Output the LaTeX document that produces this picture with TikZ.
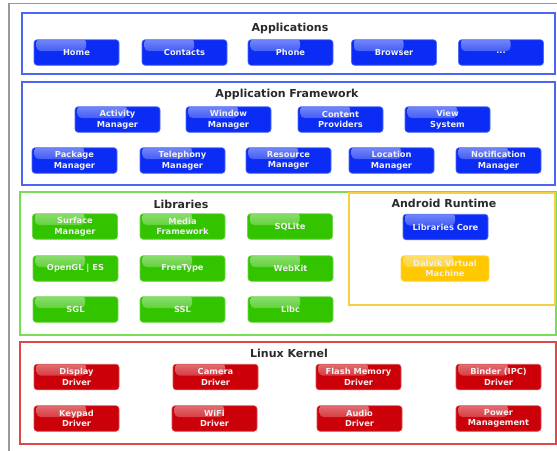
\documentclass[tikz,border=0pt]{standalone}
\usepackage{fontspec}
\newfontfamily\btnfont{DejaVu Sans}
\usetikzlibrary{calc}
\definecolor{bbtn}{HTML}{0A2CF5}
\definecolor{bline}{HTML}{4A66F2}
\definecolor{gbtn}{HTML}{33C400}
\definecolor{gline}{HTML}{77DD55}
\definecolor{ybtn}{HTML}{FFC800}
\definecolor{yline}{HTML}{F5D040}
\definecolor{rbtn}{HTML}{CC0008}
\definecolor{rline}{HTML}{E04848}
\definecolor{ttl}{HTML}{2A2A2A}
\tikzset{
  btn/.style={draw=#1!70!white, line width=0.6pt, fill=#1, rounded corners=3pt,
    minimum width=85pt, minimum height=25.5pt, inner sep=0pt, align=center,
    text=white!94!black, font=\btnfont\bfseries\fontsize{8.3}{10.5}\selectfont,
    path picture={\shade[top color=white, bottom color=#1, opacity=0.45, rounded corners=4pt]
      ($(path picture bounding box.north west)+(2.5pt,1.5pt)$) rectangle
      ($(path picture bounding box.west)+(52pt,1.5pt)$);}},
  layer/.style={draw=#1, line width=1.3pt},
  ttlnode/.style={text=ttl, font=\btnfont\bfseries\fontsize{11}{13}\selectfont, inner sep=0pt}
}
\begin{document}
\begin{tikzpicture}[x=1pt,y=-1pt]
\useasboundingbox (0,0) rectangle (557,450);
\clip (0,0) rectangle (557,450);
\fill[white] (0,0) rectangle (557,450);
\draw[gray!80, line width=1.5pt] (9,460) -- (9,3.5) -- (570,3.5);
% layers
\draw[layer=bline] (22,13) rectangle (555,74);
\draw[layer=bline] (22,82) rectangle (555,185);
\draw[layer=gline] (20,192) rectangle (556,335);
\draw[layer=yline] (349,193) rectangle (555,305);
\draw[layer=rline] (20,342) rectangle (556,444);
% titles
\node[ttlnode] (tapp) at (290,28) {Applications};
\node[ttlnode] (tfw) at (287,94) {Application Framework};
\node[ttlnode] (tlib) at (181,204) {Libraries};
\node[ttlnode] (trt) at (444,203) {Android Runtime};
\node[ttlnode] (tker) at (289,353) {Linux Kernel};
% applications
\node[btn=bbtn] (home) at (76.5,52.5) {Home};
\node[btn=bbtn] (contacts) at (184.5,52.5) {Contacts};
\node[btn=bbtn] (phone) at (290.5,52.5) {Phone};
\node[btn=bbtn] (browser) at (394,52.5) {Browser};
\node[btn=bbtn] (more) at (501,52.5) {...};
% framework
\node[btn=bbtn] (activity) at (117.5,119.5) {Activity\\Manager};
\node[btn=bbtn] (window) at (228.5,119.5) {Window\\Manager};
\node[btn=bbtn] (content) at (340.5,119.5) {Content\\Providers};
\node[btn=bbtn] (view) at (447.5,119.5) {View\\System};
\node[btn=bbtn] (package) at (74.5,160.5) {Package\\Manager};
\node[btn=bbtn] (telephony) at (182.5,160.5) {Telephony\\Manager};
\node[btn=bbtn] (resource) at (288.5,160.5) {Resource\\Manager};
\node[btn=bbtn] (location) at (391.5,160.5) {Location\\Manager};
\node[btn=bbtn] (notification) at (498.5,160.5) {Notification\\Manager};
% libraries
\node[btn=gbtn] (surface) at (75,226.5) {Surface\\Manager};
\node[btn=gbtn] (media) at (182.5,226.5) {Media\\Framework};
\node[btn=gbtn] (sqlite) at (290,226.5) {SQLite};
\node[btn=gbtn] (opengl) at (75.5,268.5) {OpenGL | ES};
\node[btn=gbtn] (freetype) at (182.5,268.5) {FreeType};
\node[btn=gbtn] (webkit) at (290.5,268.5) {WebKit};
\node[btn=gbtn] (sgl) at (75.5,309.5) {SGL};
\node[btn=gbtn] (ssl) at (182.5,309.5) {SSL};
\node[btn=gbtn] (libc) at (290.5,309.5) {Libc};
% runtime
\node[btn=bbtn] (core) at (445.5,227) {Libraries Core};
\node[btn=ybtn, minimum width=88pt] (dalvik) at (445,268.5) {Dalvik Virtual\\Machine};
% kernel
\node[btn=rbtn] (display) at (76.5,377) {Display\\Driver};
\node[btn=rbtn] (camera) at (215.5,377) {Camera\\Driver};
\node[btn=rbtn] (flash) at (358.5,377) {Flash Memory\\Driver};
\node[btn=rbtn] (binder) at (498.5,377) {Binder (IPC)\\Driver};
\node[btn=rbtn] (keypad) at (76.5,418.5) {Keypad\\Driver};
\node[btn=rbtn] (wifi) at (214.5,418.5) {WiFi\\Driver};
\node[btn=rbtn] (audio) at (359.5,418.5) {Audio\\Driver};
\node[btn=rbtn] (power) at (498.5,418.5) {Power\\Management};
\end{tikzpicture}
\end{document}
